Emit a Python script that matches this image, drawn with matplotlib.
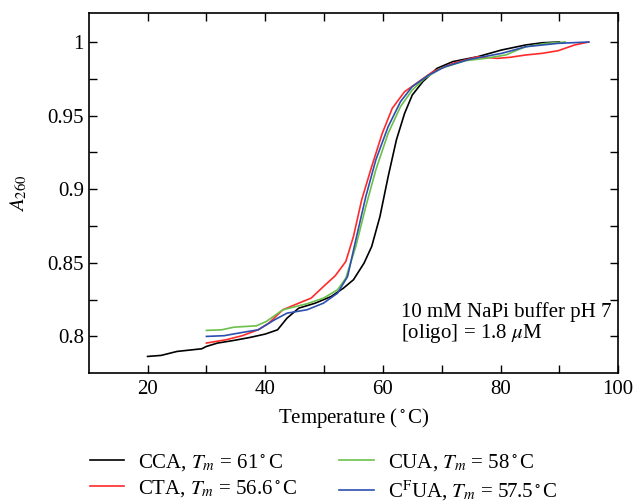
import matplotlib
matplotlib.use("Agg")
import matplotlib.pyplot as plt

plt.rcParams['font.family'] = ['Liberation Serif', 'DejaVu Serif']
plt.rcParams['mathtext.fontset'] = 'stix'

# ---- data ----
cca_T = [20, 22.3, 25, 27.8, 29.2, 30, 31.9, 34.7, 37.4, 40, 42.1, 43.7, 45.7, 48.5, 51.2, 53.3, 55, 56.8,
         58.1, 59.5, 60.9, 62.3, 63.7, 65, 66.8, 69.2, 71.9, 76.1, 80.2, 84.3, 87.1, 90]
cca_A = [0.7864, 0.7871, 0.7898, 0.7910, 0.7916, 0.7932, 0.7955, 0.7973, 0.7993, 0.8016, 0.8045, 0.8124,
         0.8192, 0.8226, 0.8271, 0.8328, 0.8385, 0.8498, 0.8611, 0.8814, 0.9086, 0.9335, 0.9516, 0.9640,
         0.9731, 0.9821, 0.9867, 0.9900, 0.9946, 0.9980, 0.9995, 1.0]

cta_T = [30, 33.3, 36.1, 38.8, 40.6, 43, 45.7, 47.8, 49.9, 51.9, 53.7, 55, 56.4, 58.1, 59.9, 61.6, 63.7,
         65.7, 68.5, 71.9, 76.1, 79.5, 81.6, 84.3, 87.1, 89.8, 92.6, 95]
cta_A = [0.7955, 0.7977, 0.8005, 0.8045, 0.8090, 0.8181, 0.8226, 0.8260, 0.8339, 0.8412, 0.8509, 0.8679,
         0.8928, 0.9154, 0.9380, 0.9550, 0.9663, 0.9719, 0.9799, 0.9855, 0.9900, 0.9889, 0.9896, 0.9912,
         0.9923, 0.9941, 0.9980, 1.0]

cua_T = [30, 32.6, 34.7, 38.5, 40.2, 43, 47.1, 49.9, 52.3, 53.7, 55.4, 57.1, 58.8, 60.9, 63, 65, 67.1,
         69.9, 74, 77.4, 80.9, 82.9, 84.3, 87.8, 91]
cua_A = [0.8041, 0.8045, 0.8063, 0.8072, 0.8102, 0.8181, 0.8222, 0.8260, 0.8317, 0.8396, 0.8611, 0.8882,
         0.9131, 0.9380, 0.9561, 0.9674, 0.9753, 0.9821, 0.9873, 0.9889, 0.9912, 0.9946, 0.9968, 0.9991, 1.0]

cfua_T = [30, 33.0, 36.1, 38.8, 41.6, 43.7, 47.1, 49.9, 52.3, 54, 55.4, 57.1, 58.8, 60.9, 63, 65, 67.8,
          70.6, 74.7, 80.2, 84.3, 89.8, 95]
cfua_A = [0.8000, 0.8005, 0.8027, 0.8045, 0.8113, 0.8158, 0.8181, 0.8226, 0.8294, 0.8407, 0.8656, 0.8950,
          0.9199, 0.9425, 0.9595, 0.9697, 0.9776, 0.9833, 0.9882, 0.9923, 0.9968, 0.9991, 1.0]

labels = [r"CCA, $T_m$ = 61$^\circ$C", r"CTA, $T_m$ = 56.6$^\circ$C",
          r"CUA, $T_m$ = 58$^\circ$C", r"C$^{\mathrm{F}}$UA, $T_m$ = 57.5$^\circ$C"]
colors = ['#000000', '#ff2a2a', '#6cc04a', '#2c4fb0']

xticks = [20, 40, 60, 80, 100]
yticks = [0.8, 0.85, 0.9, 0.95, 1.0]
ytick_labels = ['0.8', '0.85', '0.9', '0.95', '1']

FS = 15

fig = plt.figure(figsize=(6.34, 5.03), dpi=100)
ax = fig.add_axes([0.140, 0.258, 0.835, 0.717])

series = [(cca_T, cca_A), (cta_T, cta_A), (cua_T, cua_A), (cfua_T, cfua_A)]
handles = []
for (t, a), c, lab in zip(series, colors, labels):
    h, = ax.plot(t, a, color=c, lw=1.2, label=lab)
    handles.append(h)

ax.set_xlim(10, 100)
ax.set_ylim(0.775, 1.02)
ax.set_xticks(xticks)
ax.set_xticks([30, 50, 70, 90], minor=True)
ax.set_yticks(yticks)
ax.set_yticklabels(ytick_labels)
ax.set_yticks([0.825, 0.875, 0.925, 0.975], minor=True)
ax.tick_params(which='both', direction='in', top=True, right=True, labelsize=FS, width=1,
               length=5.5)
ax.tick_params(axis='x', pad=5)
for s in ax.spines.values():
    s.set_linewidth(1.2)

ax.set_xlabel(r"Temperature ($^\circ$C)", fontsize=FS, labelpad=5)
ax.set_ylabel(r"$A_{260}$", fontsize=FS, labelpad=13)

ax.text(63.0, 0.8087, "10 mM NaPi buffer pH 7\n[oligo] = 1.8 $\\mu$M", fontsize=FS,
        ha='left', va='center', linespacing=1.0)

fig.legend(handles=handles, loc='upper left', bbox_to_anchor=(0.142, 0.101), ncol=2,
           frameon=False, fontsize=FS, handlelength=1.65, handletextpad=0.67,
           columnspacing=2.0, labelspacing=0.25, borderpad=0, borderaxespad=0)

fig.savefig("out.png", dpi=100)
